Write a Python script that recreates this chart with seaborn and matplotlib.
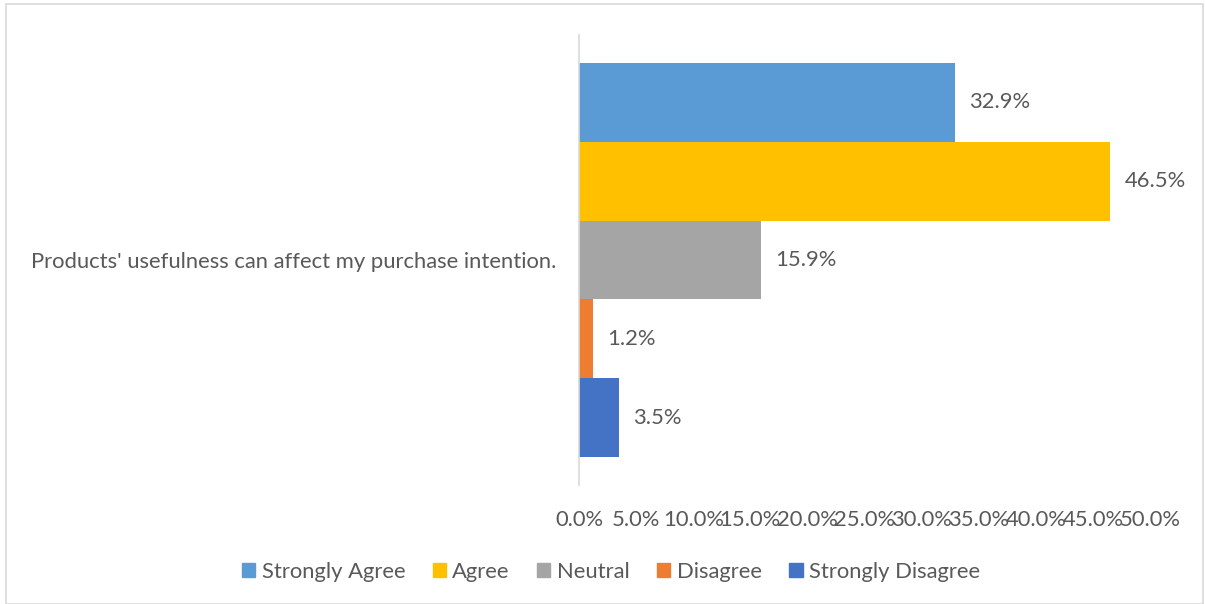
import matplotlib
matplotlib.use("Agg")
import matplotlib.pyplot as plt
import seaborn as sns
import pandas as pd
from matplotlib.patches import Rectangle
from matplotlib.ticker import FuncFormatter, MultipleLocator

categories = ["Products' usefulness can affect my purchase intention."]
responses = ["Strongly Agree", "Agree", "Neutral", "Disagree", "Strongly Disagree"]
values = [32.9, 46.5, 15.9, 1.2, 3.5]
colors = ["#5B9BD5", "#FFC000", "#A5A5A5", "#ED7D31", "#4472C4"]

df = pd.DataFrame({"category": categories * len(responses),
                   "response": responses, "value": values})

sns.set_theme(style="white")
plt.rcParams['font.family'] = ['Lato', 'DejaVu Sans']
text_color = "#595959"
fs = 15.8

fig = plt.figure(figsize=(12.05, 6.04), dpi=100)
W, H = 1205, 604
ax = fig.add_axes([579 / W, 1 - 485 / H, (1150 - 579) / W, (485 - 35) / H])

sns.barplot(data=df, x="value", y="category", hue="response", hue_order=responses,
            palette=colors, orient="h", width=0.876, ax=ax, legend=False,
            saturation=1, edgecolor="none", linewidth=0)

for cont in ax.containers:
    ax.bar_label(cont, labels=[f"{v:.1f}%" for v in cont.datavalues], padding=10.5,
                 fontsize=fs, color=text_color)

ax.set_xlim(0, 50)
ax.set_ylim(0.5, -0.5)
ax.xaxis.set_major_locator(MultipleLocator(5))
ax.xaxis.set_major_formatter(FuncFormatter(lambda v, p: f"{v:.1f}%"))
ax.set_xlabel("")
ax.set_ylabel("")
for s in ["top", "right", "bottom"]:
    ax.spines[s].set_visible(False)
ax.spines["left"].set_color("#D9D9D9")
ax.spines["left"].set_linewidth(1.2)
ax.tick_params(axis="x", length=0, pad=18, labelsize=fs, colors=text_color)
ax.tick_params(axis="y", length=0, pad=16, labelsize=fs, colors=text_color)
ax.grid(False)

handles = [Rectangle((0, 0), 1, 1, color=c) for c in colors]
fig.legend(handles, responses, loc="center", bbox_to_anchor=(611 / W, 1 - 572 / H),
           ncol=5, frameon=False, fontsize=fs, labelcolor=text_color,
           handlelength=0.6, handleheight=0.6, handletextpad=0.3, columnspacing=1.25)

fig.patches.append(Rectangle((6 / W, 0), (1203 - 6) / W, 1 - 4 / H, transform=fig.transFigure,
                             fill=False, edgecolor="#D9D9D9", linewidth=1.2))

fig.savefig("out.png", dpi=100, facecolor="white")
